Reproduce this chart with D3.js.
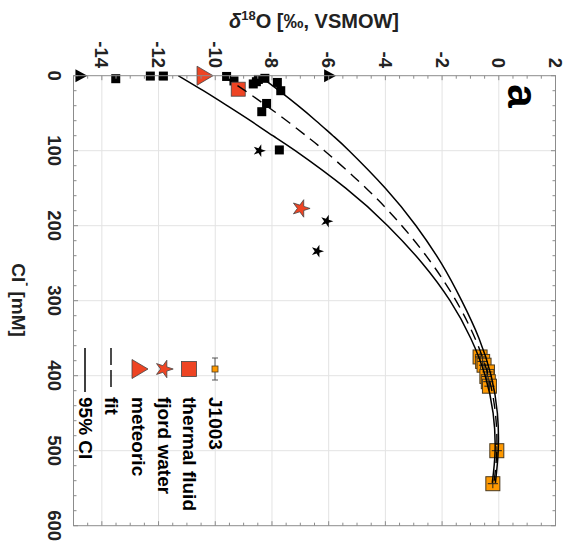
<!DOCTYPE html>
<html>
<head>
<meta charset="utf-8">
<script src="https://cdn.jsdelivr.net/npm/d3@7"></script>
<style>
body { margin: 0; background: #fff; }
svg { display: block; font-family: "Liberation Sans", Arial, sans-serif; font-weight: bold; }
</style>
</head>
<body>
<div id="chart"></div>
<script>
// d18O vs Cl- plot, the whole figure is turned a quarter turn clockwise
const dTicks = [-14, -12, -10, -8, -6, -4, -2, 0, 2];
const clTicks = [0, 100, 200, 300, 400, 500, 600];

// J1003 samples
const j1003 = [
  {d: -0.66, cl: 375}, {d: -0.57, cl: 381}, {d: -0.52, cl: 386},
  {d: -0.40, cl: 395}, {d: -0.42, cl: 401}, {d: -0.37, cl: 408},
  {d: -0.33, cl: 414}, {d: -0.07, cl: 500}, {d: -0.21, cl: 544}
];
const thermalFluid = [{d: -9.19, cl: 18}];
const fjordWater = [{d: -6.98, cl: 177}];
const meteoric = [{d: -10.36, cl: 0}];

// black symbols
const otherSquares = [
  {d: -13.51, cl: 4}, {d: -12.29, cl: 0.5}, {d: -11.83, cl: 0.5},
  {d: -9.60, cl: 1}, {d: -9.34, cl: 7}, {d: -8.66, cl: 11},
  {d: -8.55, cl: 8}, {d: -8.48, cl: 5}, {d: -8.25, cl: 3.5},
  {d: -7.81, cl: 9}, {d: -7.69, cl: 20}, {d: -8.19, cl: 37},
  {d: -8.36, cl: 48}, {d: -7.74, cl: 99}
];
const otherStars = [{d: -8.45, cl: 100}, {d: -6.07, cl: 194}, {d: -6.40, cl: 234}];
const otherTriangles = [{d: -14.72, cl: 0}, {d: -5.95, cl: 0}];

// fit and 95% CI read along Cl
const curveCl = [0, 20, 40, 60, 80, 100, 150, 200, 250, 300, 350, 400, 450, 500, 543];
const fitD  = [-9.75, -8.95, -8.20, -7.48, -6.80, -6.15, -4.68, -3.42, -2.37, -1.51, -0.84, -0.37, -0.12, -0.07, -0.17];
const ciLoD = [-11.30, -10.42, -9.58, -8.76, -7.97, -7.18, -5.40, -3.92, -2.70, -1.72, -0.99, -0.48, -0.20, -0.13, -0.23];
const ciHiD = [-8.45, -7.75, -7.08, -6.45, -5.85, -5.28, -4.00, -2.92, -2.03, -1.31, -0.70, -0.27, -0.05, -0.02, -0.12];

const dErr = 0.18, clErr = 6;

const W = 573, H = 560;
const pL = 73.5, pR = 555.5, pT = 75.7, pB = 525.7;
const red = "#ee4423", orange = "#ff9900", axisCol = "#8c8c8c";

const x = d3.scaleLinear().domain([-15, 2]).range([pL, pR]);
const y = d3.scaleLinear().domain([0, 600]).range([pT, pB]);

const svg = d3.select("#chart").append("svg")
  .attr("width", W).attr("height", H);

// grid
svg.append("g").selectAll("line").data(dTicks.filter(v => v > -15 && v < 2))
  .enter().append("line")
  .attr("x1", d => x(d)).attr("x2", d => x(d))
  .attr("y1", pT).attr("y2", pB)
  .attr("stroke", "#e3e3e3").attr("stroke-width", 1);
svg.append("g").selectAll("line").data(clTicks.filter(v => v > 0 && v < 600))
  .enter().append("line")
  .attr("y1", d => y(d)).attr("y2", d => y(d))
  .attr("x1", pL).attr("x2", pR)
  .attr("stroke", "#e3e3e3").attr("stroke-width", 1);

const star = d3.symbol().type(d3.symbolStar);
const tri = (w, h) => `M${-w / 2},${-h / 2}L${w / 2},0L${-w / 2},${h / 2}Z`;

// black markers
svg.append("g").selectAll("rect").data(otherSquares).enter().append("rect")
  .attr("x", d => x(d.d) - 4.5).attr("y", d => y(d.cl) - 4.5)
  .attr("width", 9).attr("height", 9).attr("fill", "#000");
svg.append("g").selectAll("path").data(otherStars).enter().append("path")
  .attr("d", star.size(50)())
  .attr("transform", d => `translate(${x(d.d)},${y(d.cl)}) rotate(90)`)
  .attr("fill", "#000");
svg.append("g").selectAll("path").data(otherTriangles).enter().append("path")
  .attr("d", tri(12, 13))
  .attr("transform", d => `translate(${x(d.d)},${y(d.cl)})`)
  .attr("fill", "#000");

// red markers
svg.append("g").selectAll("rect").data(thermalFluid).enter().append("rect")
  .attr("x", d => x(d.d) - 7).attr("y", d => y(d.cl) - 7)
  .attr("width", 14).attr("height", 14)
  .attr("fill", red).attr("stroke", "#444").attr("stroke-width", 0.8);
svg.append("g").selectAll("path").data(fjordWater).enter().append("path")
  .attr("d", star.size(95)())
  .attr("transform", d => `translate(${x(d.d)},${y(d.cl)}) rotate(90)`)
  .attr("fill", red).attr("stroke", "#444").attr("stroke-width", 0.8);
svg.append("g").selectAll("path").data(meteoric).enter().append("path")
  .attr("d", tri(16, 19))
  .attr("transform", d => `translate(${x(d.d)},${y(d.cl)})`)
  .attr("fill", red).attr("stroke", "#444").attr("stroke-width", 0.8);

// J1003 squares with error bars
const jg = svg.append("g");
jg.selectAll("rect").data(j1003).enter().append("rect")
  .attr("x", d => x(d.d) - 7).attr("y", d => y(d.cl) - 7)
  .attr("width", 14).attr("height", 14)
  .attr("fill", orange).attr("stroke", "#4a3a20").attr("stroke-width", 1);
jg.selectAll("line.h").data(j1003).enter().append("line").attr("class", "h")
  .attr("x1", d => x(d.d - dErr)).attr("x2", d => x(d.d + dErr))
  .attr("y1", d => y(d.cl)).attr("y2", d => y(d.cl))
  .attr("stroke", "#222").attr("stroke-width", 1);
jg.selectAll("line.v").data(j1003).enter().append("line").attr("class", "v")
  .attr("x1", d => x(d.d)).attr("x2", d => x(d.d))
  .attr("y1", d => y(d.cl - clErr)).attr("y2", d => y(d.cl + clErr))
  .attr("stroke", "#222").attr("stroke-width", 1);

// fit + CI curves
const line = d3.line().curve(d3.curveNatural)
  .x(p => x(p[0])).y(p => y(p[1]));
const pts = arr => arr.map((v, i) => [v, curveCl[i]]);
svg.append("path").attr("d", line(pts(ciLoD)))
  .attr("fill", "none").attr("stroke", "#000").attr("stroke-width", 1.5);
svg.append("path").attr("d", line(pts(ciHiD)))
  .attr("fill", "none").attr("stroke", "#000").attr("stroke-width", 1.5);
svg.append("path").attr("d", line(pts(fitD)))
  .attr("fill", "none").attr("stroke", "#000").attr("stroke-width", 1.4)
  .attr("stroke-dasharray", "11,7");

// box and ticks
const ax = svg.append("g").attr("stroke", axisCol).attr("stroke-width", 1);
ax.append("rect").attr("x", pL).attr("y", pT)
  .attr("width", pR - pL).attr("height", pB - pT).attr("fill", "none");
const minorD = d3.range(-15, 2.001, 0.5);
const minorCl = d3.range(0, 600.1, 20);
minorD.forEach(v => {
  const len = v % 2 === 0 ? 4.5 : 3;
  ax.append("line").attr("x1", x(v)).attr("x2", x(v)).attr("y1", pT).attr("y2", pT + len);
  ax.append("line").attr("x1", x(v)).attr("x2", x(v)).attr("y1", pB).attr("y2", pB - len);
});
minorCl.forEach(v => {
  const len = v % 100 === 0 ? 4.5 : 3;
  ax.append("line").attr("y1", y(v)).attr("y2", y(v)).attr("x1", pL).attr("x2", pL + len);
  ax.append("line").attr("y1", y(v)).attr("y2", y(v)).attr("x1", pR).attr("x2", pR - len);
});

// tick labels
svg.append("g").selectAll("text").data(dTicks).enter().append("text")
  .attr("transform", d => `translate(${x(d)},68) rotate(90)`)
  .attr("text-anchor", "end").attr("dominant-baseline", "central")
  .attr("font-size", 18.5).attr("fill", "#222")
  .text(d => d);
svg.append("g").selectAll("text").data(clTicks).enter().append("text")
  .attr("transform", d => `translate(54,${y(d)}) rotate(90)`)
  .attr("text-anchor", "middle").attr("dominant-baseline", "central")
  .attr("font-size", 18.5).attr("fill", "#222")
  .text(d => d);

// axis titles
const t1 = svg.append("text").attr("x", 314).attr("y", 28)
  .attr("text-anchor", "middle").attr("font-size", 20).attr("fill", "#222");
t1.append("tspan").attr("font-style", "italic").text("δ");
t1.append("tspan").attr("font-size", 13).attr("dy", -8).text("18");
t1.append("tspan").attr("dy", 8).text("O [‰, VSMOW]");

const t2 = svg.append("text").attr("transform", "translate(19,300) rotate(90)")
  .attr("text-anchor", "middle").attr("dominant-baseline", "central")
  .attr("font-size", 19).attr("fill", "#222");
t2.append("tspan").text("Cl");
t2.append("tspan").attr("font-size", 12).attr("dy", -8).text("-");
t2.append("tspan").attr("dy", 8).text(" [mM]");

svg.append("text").attr("transform", "translate(522,96) rotate(90)")
  .attr("text-anchor", "middle").attr("dominant-baseline", "central")
  .attr("font-size", 42).attr("fill", "#000").text("a");

// legend
const legY = 369, txtY = 397;
const lg = svg.append("g");
const legText = (lx, s) => lg.append("text")
  .attr("transform", `translate(${lx},${txtY}) rotate(90)`)
  .attr("dominant-baseline", "central").attr("font-size", 19).attr("fill", "#000").text(s);

lg.append("line").attr("x1", 215).attr("x2", 215).attr("y1", 358).attr("y2", 380)
  .attr("stroke", "#555").attr("stroke-width", 1);
lg.append("line").attr("x1", 212).attr("x2", 218).attr("y1", 358).attr("y2", 358)
  .attr("stroke", "#555").attr("stroke-width", 1);
lg.append("line").attr("x1", 212).attr("x2", 218).attr("y1", 380).attr("y2", 380)
  .attr("stroke", "#555").attr("stroke-width", 1);
lg.append("rect").attr("x", 212).attr("y", legY - 3).attr("width", 6).attr("height", 6)
  .attr("fill", orange).attr("stroke", "#4a3a20").attr("stroke-width", 0.8);
legText(215, "J1003");

lg.append("rect").attr("x", 189 - 7.5).attr("y", legY - 7.5).attr("width", 15).attr("height", 15)
  .attr("fill", red).attr("stroke", "#444").attr("stroke-width", 0.8);
legText(189, "thermal fluid");

lg.append("path").attr("d", star.size(95)())
  .attr("transform", `translate(164,${legY}) rotate(90)`)
  .attr("fill", red).attr("stroke", "#444").attr("stroke-width", 0.8);
legText(164, "fjord water");

lg.append("path").attr("d", tri(16, 19))
  .attr("transform", `translate(140,${legY})`)
  .attr("fill", red).attr("stroke", "#444").attr("stroke-width", 0.8);
legText(138, "meteoric");

lg.append("line").attr("x1", 111).attr("x2", 111).attr("y1", 348).attr("y2", 390)
  .attr("stroke", "#000").attr("stroke-width", 1.4).attr("stroke-dasharray", "17,5");
legText(111, "fit");

lg.append("line").attr("x1", 85).attr("x2", 85).attr("y1", 348).attr("y2", 392)
  .attr("stroke", "#000").attr("stroke-width", 1.5);
legText(85, "95% CI");
</script>
</body>
</html>
